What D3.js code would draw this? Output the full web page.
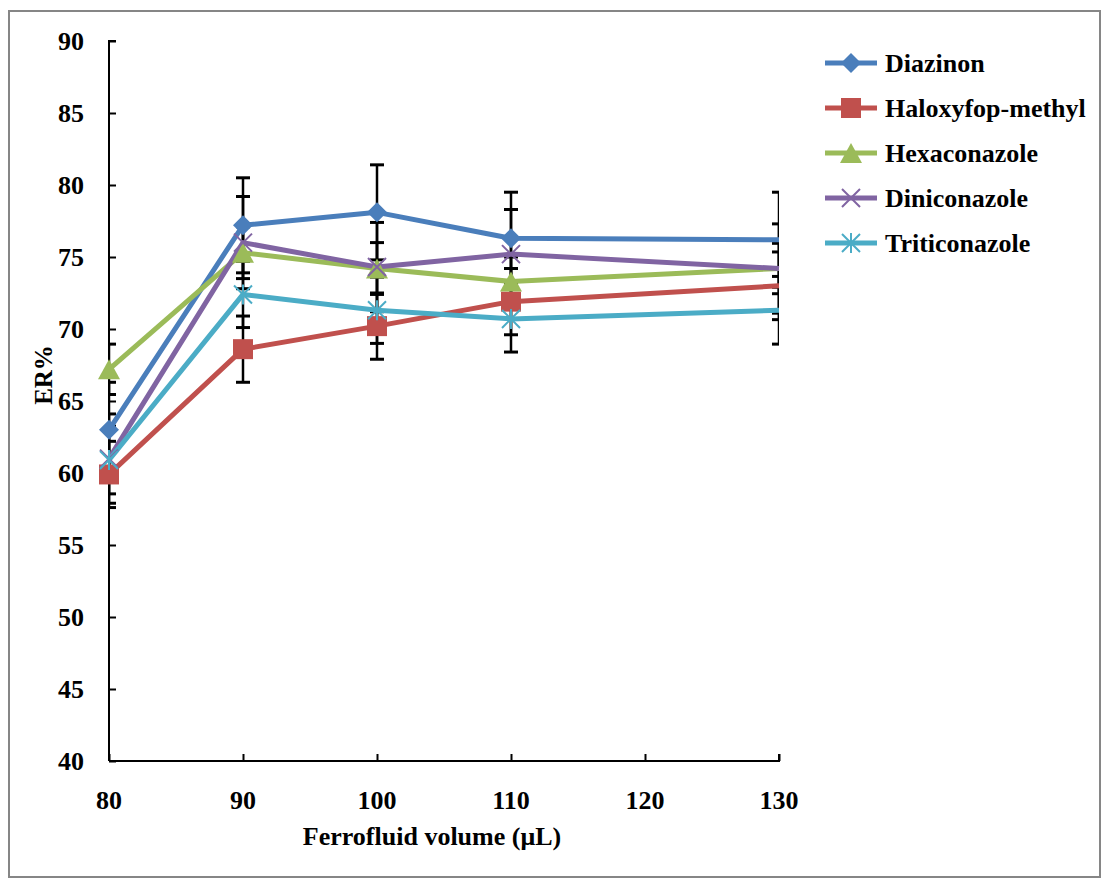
<!DOCTYPE html>
<html>
<head>
<meta charset="utf-8">
<script src="https://cdn.jsdelivr.net/npm/d3@7"></script>
<style>
  body { margin: 0; background: #fff; }
  text { font-family: "Liberation Serif", "Times New Roman", serif; font-weight: bold; fill: #000; }
</style>
</head>
<body>
<div id="chart"></div>
<script>
// data
const volumes = [80, 90, 100, 110, 130];
const seriesNames = ["Diazinon", "Haloxyfop-methyl", "Hexaconazole", "Diniconazole", "Triticonazole"];
const diazinon = [63.0, 77.2, 78.1, 76.3, 76.2];
const haloxyfop = [59.9, 68.6, 70.2, 71.9, 73.0];
const hexaconazole = [67.2, 75.3, 74.2, 73.3, 74.2];
const diniconazole = [61.0, 76.0, 74.3, 75.2, 74.2];
const triticonazole = [60.9, 72.4, 71.3, 70.7, 71.3];
const diazinonErr = [3.3, 3.3, 3.3, 3.2, 3.3];
const haloxyfopErr = [2.3, 2.3, 2.3, 2.3, 2.35];
const hexaconazoleErr = [1.75, 1.8, 1.8, 1.7, 1.75];
const diniconazoleErr = [3.1, 3.2, 3.1, 3.1, 3.1];
const triticonazoleErr = [2.35, 2.3, 2.3, 2.3, 2.35];
const yTicks = [40, 45, 50, 55, 60, 65, 70, 75, 80, 85, 90];
const xTicks = [80, 90, 100, 110, 120, 130];

// setting up constants
const FRAME_WIDTH = 1102;
const FRAME_HEIGHT = 880;
const MARGINS = {left: 109, right: 323, top: 41, bottom: 119};
const VIS_WIDTH = FRAME_WIDTH - MARGINS.left - MARGINS.right;
const VIS_HEIGHT = FRAME_HEIGHT - MARGINS.top - MARGINS.bottom;

const COLORS = ["#4a7ebb", "#c0504d", "#9bbb59", "#8064a2", "#4bacc6"];
const MARKERS = [
    "M0,-10L10,0L0,10L-10,0Z",
    "M-10,-10H10V10H-10Z",
    "M0,-10L11,10H-11Z",
    "M-9,-9L9,9M-9,9L9,-9",
    "M0,-10V10M-9,-9L9,9M-9,9L9,-9"
];

const series = seriesNames.map((name, i) => ({
    name: name,
    values: [diazinon, haloxyfop, hexaconazole, diniconazole, triticonazole][i],
    errors: [diazinonErr, haloxyfopErr, hexaconazoleErr, diniconazoleErr, triticonazoleErr][i],
    color: COLORS[i],
    marker: MARKERS[i],
    filled: i < 3
}));

const svg = d3.select("#chart")
    .append("svg")
        .attr("width", FRAME_WIDTH)
        .attr("height", FRAME_HEIGHT);

// outer border
svg.append("rect")
    .attr("x", 9).attr("y", 11)
    .attr("width", 1091).attr("height", 866)
    .attr("fill", "none")
    .attr("stroke", "#868686")
    .attr("stroke-width", 2);

const FRAME = svg.append("g")
    .attr("transform", "translate(" + MARGINS.left + "," + MARGINS.top + ")");

const xScale = d3.scaleLinear().domain([80, 130]).range([0, VIS_WIDTH]);
const yScale = d3.scaleLinear().domain([40, 90]).range([VIS_HEIGHT, 0]);

// clip for error bars (cut at plot edges)
svg.append("defs").append("clipPath").attr("id", "plotClip")
    .append("rect")
        .attr("x", 0).attr("y", -20)
        .attr("width", VIS_WIDTH).attr("height", VIS_HEIGHT + 40);

// axes
const yAxis = FRAME.append("g")
    .call(d3.axisRight(yScale).tickValues(yTicks).tickSize(7).tickFormat(""));
const xAxis = FRAME.append("g")
    .attr("transform", "translate(0," + VIS_HEIGHT + ")")
    .call(d3.axisTop(xScale).tickValues(xTicks).tickSize(7).tickFormat(""));
[yAxis, xAxis].forEach(a => {
    a.select(".domain").attr("stroke", "#000").attr("stroke-width", 2);
    a.selectAll(".tick line").attr("stroke", "#000").attr("stroke-width", 2);
});
yAxis.select(".domain").attr("d", "M0," + VIS_HEIGHT + "V0H7");
xAxis.select(".domain").attr("d", "M0,0H" + VIS_WIDTH + "V-7");

// tick labels
FRAME.append("g").selectAll("text")
    .data(yTicks).enter().append("text")
        .attr("x", -25)
        .attr("y", d => yScale(d))
        .attr("dy", "0.35em")
        .attr("text-anchor", "end")
        .attr("font-size", 26)
        .text(d => d);
FRAME.append("g").selectAll("text")
    .data(xTicks).enter().append("text")
        .attr("x", d => xScale(d))
        .attr("y", VIS_HEIGHT + 39)
        .attr("dy", "0.35em")
        .attr("text-anchor", "middle")
        .attr("font-size", 26)
        .text(d => d);

// axis titles
FRAME.append("text")
    .attr("x", 323)
    .attr("y", VIS_HEIGHT + 75)
    .attr("dy", "0.35em")
    .attr("text-anchor", "middle")
    .attr("font-size", 26)
    .text("Ferrofluid volume (μL)");
FRAME.append("text")
    .attr("transform", "translate(-66,334) rotate(-90)")
    .attr("dy", "0.35em")
    .attr("text-anchor", "middle")
    .attr("font-size", 25)
    .text("ER%");

// error bars
const errG = FRAME.append("g").attr("clip-path", "url(#plotClip)");
series.forEach(s => {
    s.values.forEach((v, j) => {
        const cx = xScale(volumes[j]);
        const y0 = yScale(v - s.errors[j]);
        const y1 = yScale(v + s.errors[j]);
        errG.append("line")
            .attr("x1", cx).attr("x2", cx).attr("y1", y0).attr("y2", y1)
            .attr("stroke", "#000").attr("stroke-width", 2.5);
        [y0, y1].forEach(yy => {
            errG.append("line")
                .attr("x1", cx - 7).attr("x2", cx + 7).attr("y1", yy).attr("y2", yy)
                .attr("stroke", "#000").attr("stroke-width", 3);
        });
    });
});

// lines
const line = d3.line()
    .x((d, j) => xScale(volumes[j]))
    .y(d => yScale(d));
series.forEach(s => {
    FRAME.append("path")
        .datum(s.values)
        .attr("d", line)
        .attr("fill", "none")
        .attr("stroke", s.color)
        .attr("stroke-width", 5)
        .attr("stroke-linejoin", "round");
});

// markers (none shown on the last point at the right edge)
series.forEach(s => {
    FRAME.append("g").selectAll("path")
        .data(s.values.slice(0, -1)).enter().append("path")
            .attr("transform", (d, j) => "translate(" + xScale(volumes[j]) + "," + yScale(d) + ")")
            .attr("d", s.marker)
            .attr("fill", s.filled ? s.color : "none")
            .attr("stroke", s.color)
            .attr("stroke-width", s.filled ? 0 : 2);
});

// legend
const legend = svg.append("g").attr("transform", "translate(825,63)");
series.forEach((s, i) => {
    const row = legend.append("g").attr("transform", "translate(0," + (i * 45) + ")");
    row.append("line")
        .attr("x1", 0).attr("x2", 52)
        .attr("stroke", s.color).attr("stroke-width", 5);
    row.append("path")
        .attr("transform", "translate(26,0)")
        .attr("d", s.marker)
        .attr("fill", s.filled ? s.color : "none")
        .attr("stroke", s.color)
        .attr("stroke-width", s.filled ? 0 : 2);
    row.append("text")
        .attr("x", 60)
        .attr("dy", "0.35em")
        .attr("font-size", 26)
        .text(s.name);
});
</script>
</body>
</html>
